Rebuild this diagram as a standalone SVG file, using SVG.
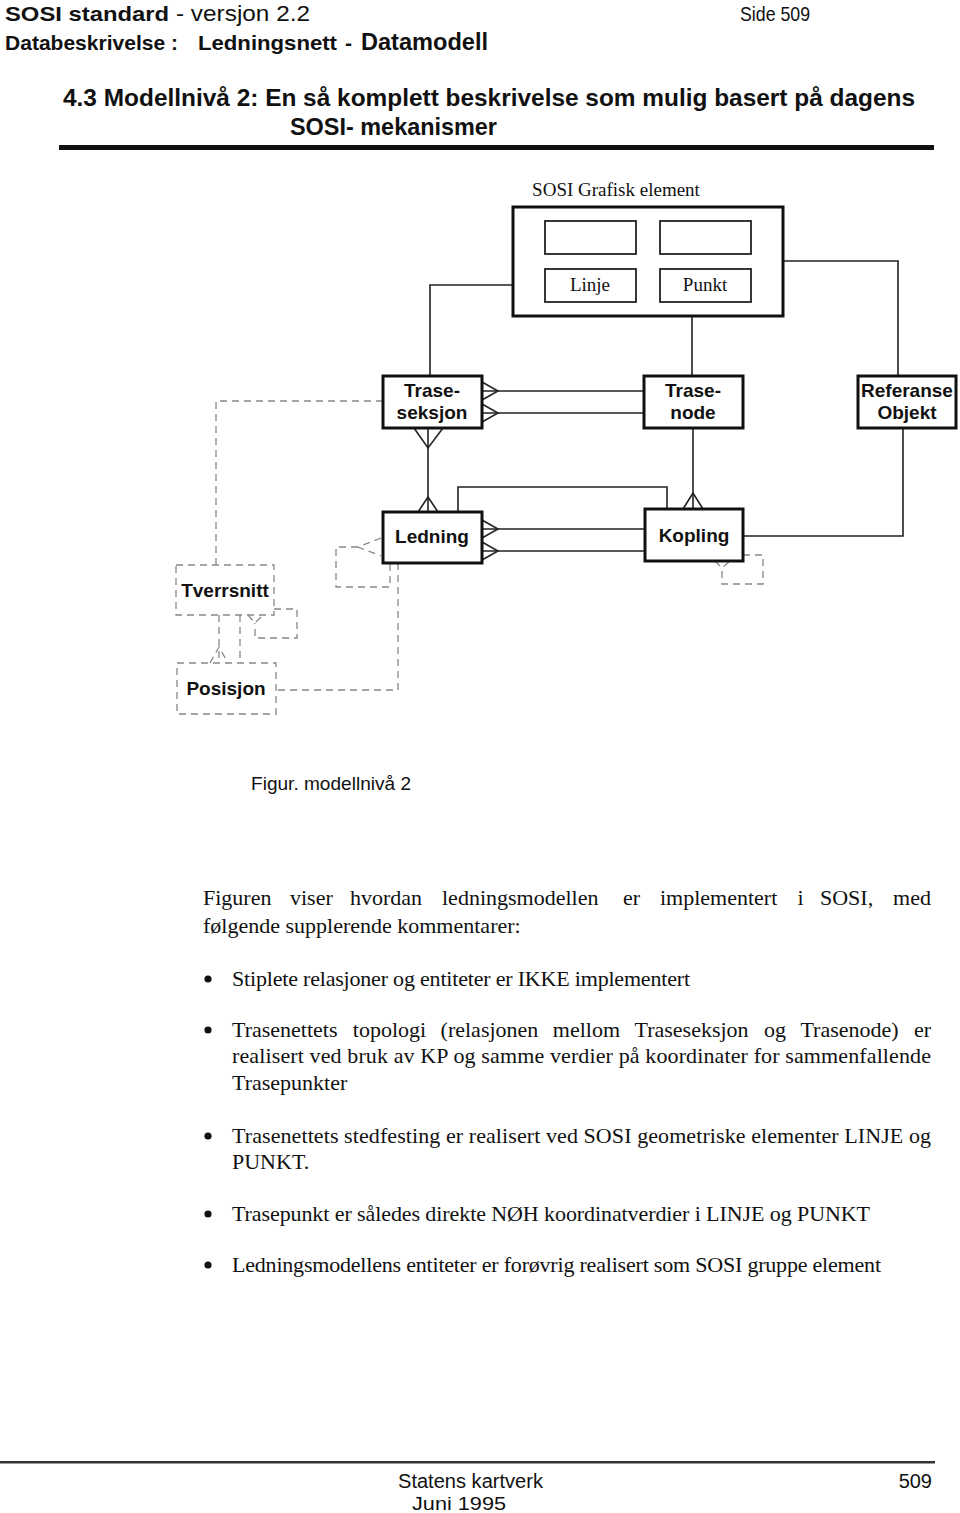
<svg xmlns="http://www.w3.org/2000/svg" width="960" height="1513" viewBox="0 0 960 1513">
<style>
.sans{font-family:"Liberation Sans",Arial,Helvetica,sans-serif;fill:#111}
.b{font-weight:bold}
.serif{font-family:"Liberation Serif","Times New Roman",serif;fill:#111}
.body{font-family:"Liberation Serif","Times New Roman",serif;font-size:22px;fill:#111}
.box{fill:#fff;stroke:#111;stroke-width:3}
.ibox{fill:#fff;stroke:#222;stroke-width:1.8}
.dbox{fill:none;stroke:#888;stroke-width:1.3;stroke-dasharray:7 5}
.ln{fill:none;stroke:#222;stroke-width:1.6}
.dl{fill:none;stroke:#888;stroke-width:1.3;stroke-dasharray:7 5}
.lbl{font-family:"Liberation Sans",Arial,Helvetica,sans-serif;font-weight:bold;font-size:19px;text-anchor:middle;fill:#111}
.slbl{font-family:"Liberation Serif","Times New Roman",serif;font-size:19px;text-anchor:middle;fill:#111}
</style>
<rect width="960" height="1513" fill="#fff"/>

<!-- header -->
<g id="header">
<text class="sans b" x="5" y="21" font-size="21" textLength="164" lengthAdjust="spacingAndGlyphs">SOSI standard</text>
<text class="sans" x="176" y="21" font-size="22" textLength="134" lengthAdjust="spacingAndGlyphs">- versjon 2.2</text>
<text class="sans" x="740" y="21" font-size="21" textLength="70" lengthAdjust="spacingAndGlyphs">Side 509</text>
<text class="sans b" x="5" y="50" font-size="21" textLength="173" lengthAdjust="spacingAndGlyphs">Databeskrivelse :</text>
<text class="sans b" x="198" y="50" font-size="21" textLength="139" lengthAdjust="spacingAndGlyphs">Ledningsnett</text>
<text class="sans b" x="345" y="50" font-size="21">-</text>
<text class="sans b" x="361" y="50" font-size="23" textLength="127" lengthAdjust="spacingAndGlyphs">Datamodell</text>
<text class="sans b" x="63" y="106" font-size="24" textLength="852" lengthAdjust="spacingAndGlyphs">4.3  Modellnivå 2:  En så komplett beskrivelse som mulig basert på dagens</text>
<text class="sans b" x="290" y="135" font-size="24" textLength="207" lengthAdjust="spacingAndGlyphs">SOSI- mekanismer</text>
<rect x="59" y="145" width="875" height="5" fill="#111"/>
</g>

<!-- connectors -->
<g id="connectors">
<path class="ln" d="M545,285 H430 V376"/>
<path class="ln" d="M692,302 V376"/>
<path class="ln" d="M783,261 H898 V376"/>
<path class="ln" d="M482,391 H644 M482,413 H644"/>
<path class="ln" d="M482,382 L498,391 L482,400 M482,404 L498,413 L482,422"/>
<path class="ln" d="M428,428 V512"/>
<path class="ln" d="M414,428 L428,448 L443,428 M418,512 L428,497 L438,512"/>
<path class="ln" d="M693,428 V509"/>
<path class="ln" d="M683,509 L693,493 L703,509"/>
<path class="ln" d="M903,428 V536 H743"/>
<path class="ln" d="M458,512 V487 H667 V509"/>
<path class="ln" d="M482,529 H645 M482,551 H645"/>
<path class="ln" d="M482,520 L498,529 L482,538 M482,542 L498,551 L482,560"/>
<path class="dl" d="M383,401 H216 V565"/>
<path class="dl" d="M381,538 L358,547 L381,556 M358,547 H336 V587 H390 V563"/>
<path class="dl" d="M398,563 V690 H276"/>
<path class="dl" d="M219,615 V663 M210,663 L219,647 L228,663"/>
<path class="dl" d="M240,615 V663"/>
<path class="dl" d="M274,609 H297 V638 H255 V623 M248,615 L255,623 L263,615"/>
<path class="dl" d="M743,555 H763 V584 H722 V568 M715,561 L722,568 L730,561"/>
</g>

<!-- nodes -->
<g id="sosi-grafisk-element">
<text class="slbl" x="616" y="196" font-size="20.5">SOSI Grafisk element</text>
<rect class="box" x="513" y="207" width="270" height="109"/>
<rect class="ibox" x="545" y="221" width="91" height="33"/>
<rect class="ibox" x="660" y="221" width="91" height="33"/>
</g>
<g id="linje">
<rect class="ibox" x="545" y="269" width="91" height="33"/>
<text class="slbl" x="590" y="291">Linje</text>
</g>
<g id="punkt">
<rect class="ibox" x="660" y="269" width="91" height="33"/>
<text class="slbl" x="705" y="291">Punkt</text>
</g>
<g id="traseseksjon">
<rect class="box" x="383" y="376" width="99" height="52"/>
<text class="lbl" x="432" y="397">Trase-</text>
<text class="lbl" x="432" y="419">seksjon</text>
</g>
<g id="trasenode">
<rect class="box" x="644" y="376" width="99" height="52"/>
<text class="lbl" x="693" y="397">Trase-</text>
<text class="lbl" x="693" y="419">node</text>
</g>
<g id="referanse-objekt">
<rect class="box" x="858" y="376" width="98" height="52"/>
<text class="lbl" x="907" y="397">Referanse</text>
<text class="lbl" x="907" y="419">Objekt</text>
</g>
<g id="ledning">
<rect class="box" x="383" y="512" width="99" height="51"/>
<text class="lbl" x="432" y="543">Ledning</text>
</g>
<g id="kopling">
<rect class="box" x="645" y="509" width="98" height="52"/>
<text class="lbl" x="694" y="542">Kopling</text>
</g>
<g id="tverrsnitt">
<rect class="dbox" x="176" y="565" width="98" height="50"/>
<text class="lbl" x="225" y="597">Tverrsnitt</text>
</g>
<g id="posisjon">
<rect class="dbox" x="177" y="663" width="99" height="51"/>
<text class="lbl" x="226" y="695">Posisjon</text>
</g>

<g id="caption">
<text class="sans" x="251" y="790" font-size="19" textLength="160" lengthAdjust="spacingAndGlyphs">Figur. modellnivå 2</text>
</g>

<!-- body text -->
<g id="body">
<text class="body" y="905"><tspan x="203">Figuren</tspan><tspan x="290">viser</tspan><tspan x="350">hvordan</tspan><tspan x="442">ledningsmodellen</tspan><tspan x="623">er</tspan><tspan x="660">implementert</tspan><tspan x="797.5">i</tspan><tspan x="820">SOSI,</tspan><tspan x="931" text-anchor="end">med</tspan></text>
<text class="body" x="203" y="933">følgende supplerende kommentarer:</text>

<circle cx="208" cy="979" r="3.6" fill="#111"/>
<text class="body" x="232" y="986" textLength="458" lengthAdjust="spacing">Stiplete relasjoner og entiteter er IKKE implementert</text>

<circle cx="208" cy="1030" r="3.6" fill="#111"/>
<text class="body" y="1037"><tspan x="232">Trasenettets</tspan><tspan x="352.8">topologi</tspan><tspan x="440.6">(relasjonen</tspan><tspan x="552.8">mellom</tspan><tspan x="634.5">Traseseksjon</tspan><tspan x="763.9">og</tspan><tspan x="800.4">Trasenode)</tspan><tspan x="931" text-anchor="end">er</tspan></text>
<text class="body" x="232" y="1063" textLength="699" lengthAdjust="spacing">realisert ved bruk av KP og samme verdier på koordinater for sammenfallende</text>
<text class="body" x="232" y="1090">Trasepunkter</text>

<circle cx="208" cy="1136" r="3.6" fill="#111"/>
<text class="body" x="232" y="1143" textLength="699" lengthAdjust="spacing">Trasenettets stedfesting er realisert ved SOSI geometriske elementer LINJE og</text>
<text class="body" x="232" y="1169">PUNKT.</text>

<circle cx="208" cy="1214" r="3.6" fill="#111"/>
<text class="body" x="232" y="1221" textLength="638" lengthAdjust="spacing">Trasepunkt er således direkte NØH koordinatverdier i LINJE og PUNKT</text>

<circle cx="208" cy="1265" r="3.6" fill="#111"/>
<text class="body" x="232" y="1272" textLength="649" lengthAdjust="spacing">Ledningsmodellens entiteter er forøvrig realisert som SOSI gruppe element</text>
</g>

<!-- footer -->
<g id="footer">
<rect x="0" y="1461" width="935" height="2.5" fill="#333"/>
<text class="sans" x="398" y="1488" font-size="20" textLength="145" lengthAdjust="spacingAndGlyphs">Statens kartverk</text>
<text class="sans" x="932" y="1488" font-size="20" text-anchor="end">509</text>
<text class="sans" x="412" y="1510" font-size="19" textLength="94" lengthAdjust="spacingAndGlyphs">Juni  1995</text>
</g>
</svg>
